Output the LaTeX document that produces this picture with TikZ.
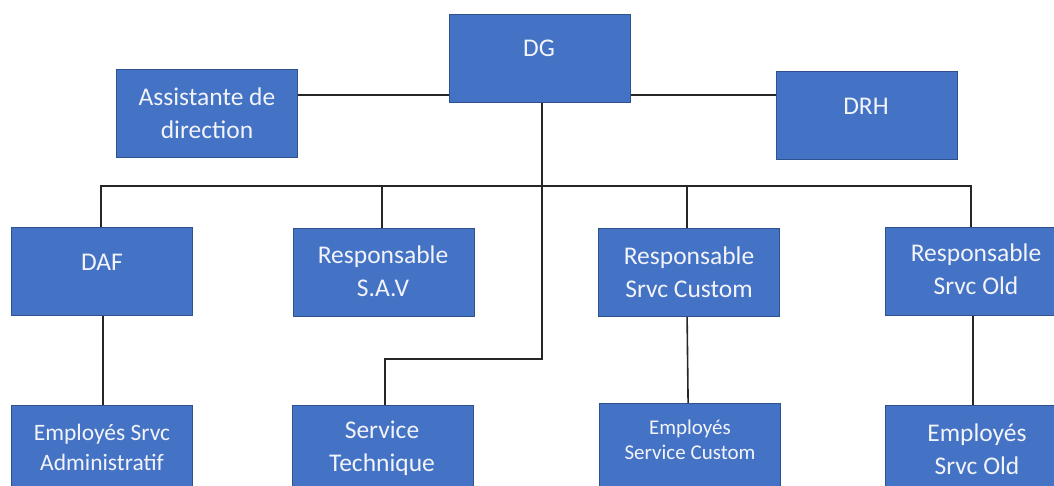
\documentclass[tikz,border=0pt]{standalone}
\usepackage{fontspec}
\setmainfont{Carlito}
\definecolor{boxfill}{HTML}{4472C4}
\definecolor{boxline}{HTML}{2F528F}
\definecolor{boxtext}{HTML}{F2F4FA}
\begin{document}
\begin{tikzpicture}[x=1pt,y=-1pt,
  orgbox/.style={rectangle,draw=boxline,fill=boxfill,line width=1.2pt,
    minimum width=181pt,minimum height=88pt,inner sep=0pt,anchor=north west},
  lbl/.style={text=boxtext,align=center,font=\fontsize{25.5}{33}\selectfont,inner sep=0pt},
  lblmid/.style={lbl,font=\fontsize{23.5}{30}\selectfont},
  lblsmall/.style={lbl,font=\fontsize{21}{25}\selectfont},
  wire/.style={draw=black!85,line width=1.6pt}]
\useasboundingbox (0,0) rectangle (1054,486);
\clip (0,0) rectangle (1054,486);
\coordinate (hy) at (0,95);
\coordinate (bus) at (0,186);
\coordinate (turn) at (542,359);
% boxes
\node[orgbox] (dg) at (449,14) {};
\node[orgbox] (asst) at (116,69) {};
\node[orgbox] (drh) at (776,71) {};
\node[orgbox] (daf) at (11,227) {};
\node[orgbox] (sav) at (293,228) {};
\node[orgbox] (cust) at (598,228) {};
\node[orgbox] (old) at (885,227) {};
\node[orgbox] (eadm) at (11,405) {};
\node[orgbox] (tech) at (292,405) {};
\node[orgbox] (ecust) at (599,403) {};
\node[orgbox] (eold) at (885,405) {};
% labels
\node[lbl] (tdg) at (539,48) {DG};
\node[lbl] (tasst) at (207,113) {Assistante de\\direction};
\node[lbl] (tdrh) at (866,106) {DRH};
\node[lbl] (tdaf) at (102,262) {DAF};
\node[lbl] (tsav) at (383,271) {Responsable\\S.A.V};
\node[lbl] (tcust) at (689,272) {Responsable\\Srvc Custom};
\node[lbl] (told) at (976,269) {Responsable\\Srvc Old};
\node[lblmid] (teadm) at (102,447) {Employés Srvc\\Administratif};
\node[lbl] (ttech) at (382,448) {Service\\Technique};
\node[lblsmall] (tecust) at (690,440) {Employés\\Service Custom};
\node[lbl] (teold) at (977,449) {Employés\\Srvc Old};
% connectors
\draw[wire] (asst.east |- hy) -- (dg.west |- hy);
\draw[wire] (dg.east |- hy) -- (drh.west |- hy);
\draw[wire] ([xshift=-1pt]daf.north) -- ([xshift=-1pt]daf.north |- bus) -- ([xshift=-5pt]old.north |- bus) -- ([xshift=-5pt]old.north);
\draw[wire] ([xshift=-2pt]sav.north) -- ([xshift=-2pt]sav.north |- bus);
\draw[wire] ([xshift=-2pt]cust.north) -- ([xshift=-2pt]cust.north |- bus);
\draw[wire] (turn |- dg.south) -- (turn) -- ([xshift=2pt]tech.north |- turn) -- ([xshift=2pt]tech.north);
\draw[wire] ([xshift=1pt]daf.south) -- ([xshift=1pt]eadm.north);
\draw[wire] ([xshift=-2pt]cust.south) -- ([xshift=-2pt]ecust.north);
\draw[wire] ([xshift=-3pt]old.south) -- ([xshift=-3pt]eold.north);
\end{tikzpicture}
\end{document}
